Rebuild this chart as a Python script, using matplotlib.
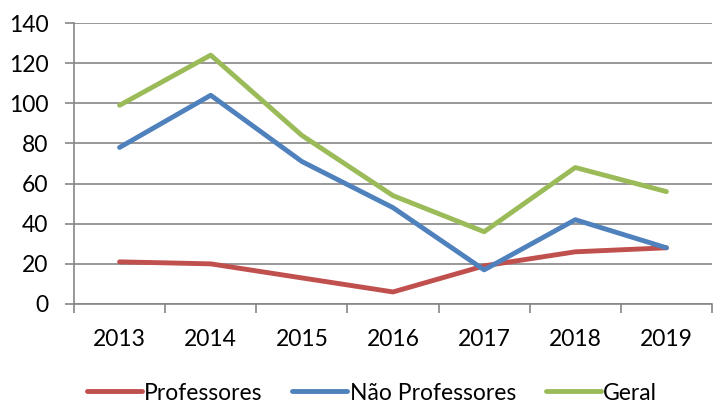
import numpy as np
import matplotlib.pyplot as plt

anos = ['2013', '2014', '2015', '2016', '2017', '2018', '2019']
professores = [21, 20, 13, 6, 19, 26, 28]
nao_professores = [78, 104, 71, 48, 17, 42, 28]
geral = [99, 124, 84, 54, 36, 68, 56]

plt.rcParams['font.family'] = ['Lato', 'DejaVu Sans']
fs = 16.5

fig = plt.figure(figsize=(7.24, 4.05), dpi=100)
ax = fig.add_axes([74 / 724, 1 - 304 / 405, (712 - 74) / 724, (304 - 23) / 405])

x = np.arange(len(anos))
ax.plot(x, professores, color='#C0504D', lw=3.5, label='Professores', solid_capstyle='round')
ax.plot(x, nao_professores, color='#4F81BD', lw=3.5, label='Não Professores', solid_capstyle='round')
ax.plot(x, geral, color='#9BBB59', lw=3.5, label='Geral', solid_capstyle='round')

ax.set_xlim(-0.5, len(anos) - 0.5)
ax.set_ylim(0, 140)
ax.set_yticks(np.arange(0, 141, 20))
ax.set_xticks(x)
ax.set_xticklabels(anos)
ax.set_xticks(np.arange(-0.5, len(anos), 1), minor=True)
ax.tick_params(axis='x', which='major', length=0, pad=18, labelsize=fs)
ax.tick_params(axis='x', which='minor', length=6.5, color='#868686', width=1.2)
ax.tick_params(axis='y', length=6.5, color='#868686', width=1.2, labelsize=fs, pad=12)

ax.grid(axis='y', color='#868686', lw=1.2)
ax.set_axisbelow(True)
for s in ['top', 'right']:
    ax.spines[s].set_visible(False)
ax.spines['left'].set_color('#868686')
ax.spines['left'].set_linewidth(1.2)
ax.spines['bottom'].set_color('#868686')
ax.spines['bottom'].set_linewidth(1.2)

fig.legend(loc='center', bbox_to_anchor=(372 / 724, 1 - 393 / 405), ncol=3, frameon=False,
           fontsize=fs, handlelength=2.4, handletextpad=0.1, columnspacing=1.3)

fig.savefig('out.png', dpi=100)
